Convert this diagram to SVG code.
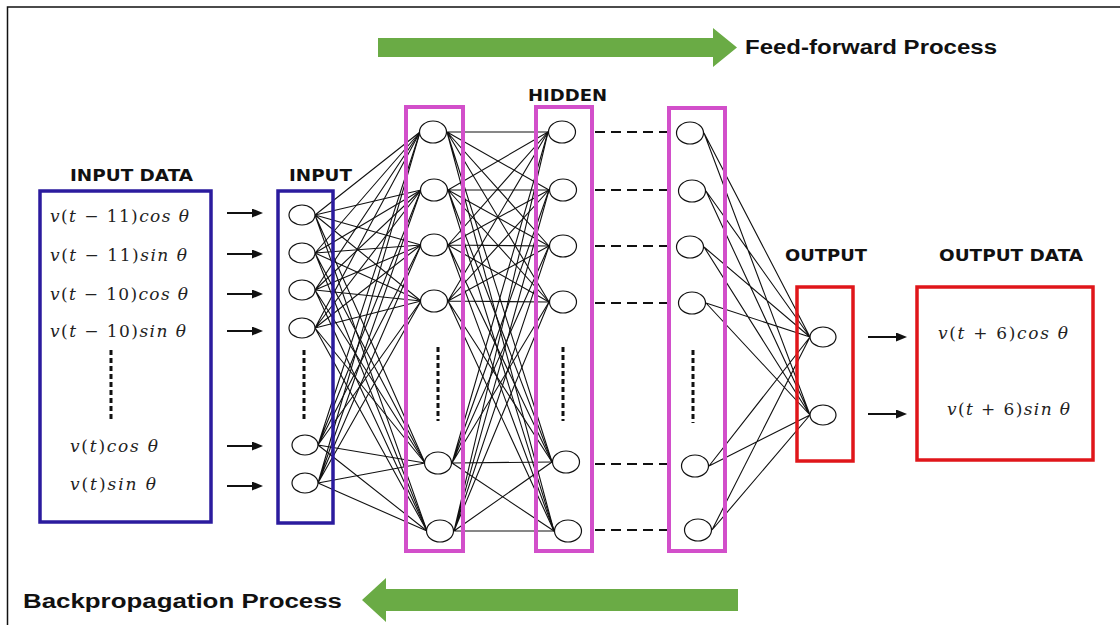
<svg xmlns="http://www.w3.org/2000/svg" width="1120" height="625" viewBox="0 0 1120 625">
<style>
.lbl{font-family:"DejaVu Sans","Liberation Sans",sans-serif;font-weight:bold;font-size:16px;fill:#111}
.proc{font-family:"Liberation Sans","Open Sans",sans-serif;font-weight:bold;font-size:20px;fill:#111}
.m{font-family:"DejaVu Serif","Liberation Serif",serif;font-size:17px;fill:#222}
.i{font-style:italic}
.blue{fill:none;stroke:#2b1b9e;stroke-width:3.5}
.mag{fill:none;stroke:#d24fca;stroke-width:4}
.red{fill:none;stroke:#e0161a;stroke-width:3.5}
.n{fill:#fff;stroke:#111;stroke-width:1.2}
.c{fill:none;stroke:#111;stroke-width:1.1}
.vd{stroke:#111;stroke-width:3;stroke-dasharray:5 3}
.hd{stroke:#111;stroke-width:2.2;stroke-dasharray:10 6}
.ar{stroke:#111;stroke-width:2}
.green{fill:#6aab45}
</style>
<defs>
<marker id="ah" markerUnits="userSpaceOnUse" markerWidth="11" markerHeight="9" refX="2" refY="4.5" orient="auto">
<path d="M0,0 L11,4.5 L0,9 Z" fill="#111"/>
</marker>
</defs>
<rect x="7.5" y="7" width="1200" height="700" fill="#fff" stroke="#111" stroke-width="1.5"/>

<g id="feed-forward">
<path class="green" d="M378,38 L713,38 L713,28 L737,47.5 L713,67 L713,57 L378,57 Z"/>
<text class="proc" x="745" y="54" textLength="252" lengthAdjust="spacingAndGlyphs">Feed-forward Process</text>
</g>
<g id="backpropagation">
<path class="green" d="M738,589 L386,589 L386,578 L362,600 L386,622 L386,611 L738,611 Z"/>
<text class="proc" x="23" y="608" textLength="319" lengthAdjust="spacingAndGlyphs">Backpropagation Process</text>
</g>

<g id="connectors">
<g id="in-h1">
<path class="c" d="M315 215L420 132M315 215L421 190M315 215L421 245M315 215L421 301M315 215L425 463M315 215L427 531"/>
<path class="c" d="M315 253L420 132M315 253L421 190M315 253L421 245M315 253L421 301M315 253L425 463M315 253L427 531"/>
<path class="c" d="M315 290L420 132M315 290L421 190M315 290L421 245M315 290L421 301M315 290L425 463M315 290L427 531"/>
<path class="c" d="M315 328L420 132M315 328L421 190M315 328L421 245M315 328L421 301M315 328L425 463M315 328L427 531"/>
<path class="c" d="M318 445L420 132M318 445L421 190M318 445L421 245M318 445L421 301M318 445L425 463M318 445L427 531"/>
<path class="c" d="M318 483L420 132M318 483L421 190M318 483L421 245M318 483L421 301M318 483L425 463M318 483L427 531"/>
</g>
<g id="h1-h2">
<path class="c" d="M447 132L548 132M447 132L549 190M447 132L549 246M447 132L549 302M447 132L552 462M447 132L554 531"/>
<path class="c" d="M448 190L548 132M448 190L549 190M448 190L549 246M448 190L549 302M448 190L552 462M448 190L554 531"/>
<path class="c" d="M448 245L548 132M448 245L549 190M448 245L549 246M448 245L549 302M448 245L552 462M448 245L554 531"/>
<path class="c" d="M448 301L548 132M448 301L549 190M448 301L549 246M448 301L549 302M448 301L552 462M448 301L554 531"/>
<path class="c" d="M452 463L548 132M452 463L549 190M452 463L549 246M452 463L549 302M452 463L552 462M452 463L554 531"/>
<path class="c" d="M454 531L548 132M454 531L549 190M454 531L549 246M454 531L549 302M454 531L552 462M454 531L554 531"/>
</g>
<g id="h2-h3">
<line class="hd" x1="595" y1="132" x2="667" y2="132"/>
<line class="hd" x1="595" y1="190" x2="667" y2="190"/>
<line class="hd" x1="595" y1="246" x2="667" y2="246"/>
<line class="hd" x1="595" y1="303" x2="667" y2="303"/>
<line class="hd" x1="595" y1="464" x2="667" y2="464"/>
<line class="hd" x1="595" y1="530" x2="667" y2="530"/>
</g>
<g id="h3-out">
<path class="c" d="M704 133L810 337M704 133L810 415M706 191L810 337M706 191L810 415M704 247L810 337M704 247L810 415M706 303L810 337M706 303L810 415M709 466L810 337M709 466L810 415M712 530L810 337M712 530L810 415"/>
</g>
<g id="data-arrows">
<line class="ar" x1="227" y1="213" x2="254" y2="213" marker-end="url(#ah)"/>
<line class="ar" x1="227" y1="254" x2="254" y2="254" marker-end="url(#ah)"/>
<line class="ar" x1="227" y1="294" x2="254" y2="294" marker-end="url(#ah)"/>
<line class="ar" x1="227" y1="331" x2="254" y2="331" marker-end="url(#ah)"/>
<line class="ar" x1="227" y1="446" x2="254" y2="446" marker-end="url(#ah)"/>
<line class="ar" x1="227" y1="486" x2="254" y2="486" marker-end="url(#ah)"/>
<line class="ar" x1="868" y1="337" x2="898" y2="337" marker-end="url(#ah)"/>
<line class="ar" x1="868" y1="414" x2="898" y2="414" marker-end="url(#ah)"/>
</g>
</g>

<g id="input-data">
<text class="lbl" x="70" y="181" textLength="123" lengthAdjust="spacingAndGlyphs">INPUT DATA</text>
<rect class="blue" x="40" y="191" width="171" height="331"/>
<text class="m" x="50" y="222" textLength="139" lengthAdjust="spacing"><tspan class="i">v</tspan>(<tspan class="i">t</tspan> − 11)<tspan class="i">cos θ</tspan></text>
<text class="m" x="50" y="261" textLength="137" lengthAdjust="spacing"><tspan class="i">v</tspan>(<tspan class="i">t</tspan> − 11)<tspan class="i">sin θ</tspan></text>
<text class="m" x="50" y="300" textLength="138" lengthAdjust="spacing"><tspan class="i">v</tspan>(<tspan class="i">t</tspan> − 10)<tspan class="i">cos θ</tspan></text>
<text class="m" x="50" y="337" textLength="136" lengthAdjust="spacing"><tspan class="i">v</tspan>(<tspan class="i">t</tspan> − 10)<tspan class="i">sin θ</tspan></text>
<line class="vd" x1="111" y1="350" x2="111" y2="421"/>
<text class="m" x="70" y="452" textLength="88" lengthAdjust="spacing"><tspan class="i">v</tspan>(<tspan class="i">t</tspan>)<tspan class="i">cos θ</tspan></text>
<text class="m" x="70" y="490" textLength="86" lengthAdjust="spacing"><tspan class="i">v</tspan>(<tspan class="i">t</tspan>)<tspan class="i">sin θ</tspan></text>
</g>

<g id="input-layer">
<text class="lbl" x="289" y="181" textLength="63" lengthAdjust="spacingAndGlyphs">INPUT</text>
<rect class="blue" x="278" y="191" width="55" height="332"/>
<ellipse class="n" cx="302" cy="215" rx="13" ry="10"/>
<ellipse class="n" cx="302" cy="253" rx="13" ry="10"/>
<ellipse class="n" cx="302" cy="290" rx="13" ry="10"/>
<ellipse class="n" cx="302" cy="328" rx="13" ry="10"/>
<line class="vd" x1="304" y1="350" x2="304" y2="421"/>
<ellipse class="n" cx="305" cy="445" rx="13" ry="10"/>
<ellipse class="n" cx="305" cy="483" rx="13" ry="10"/>
</g>

<text id="hidden-label" class="lbl" x="528" y="101" textLength="79" lengthAdjust="spacingAndGlyphs">HIDDEN</text>

<g id="hidden-1">
<rect class="mag" x="406" y="107" width="57" height="444"/>
<ellipse class="n" cx="433" cy="132" rx="13.5" ry="11"/>
<ellipse class="n" cx="434" cy="190" rx="13.5" ry="11"/>
<ellipse class="n" cx="434" cy="245" rx="13.5" ry="11"/>
<ellipse class="n" cx="434" cy="301" rx="13.5" ry="11"/>
<line class="vd" x1="438" y1="347" x2="438" y2="421"/>
<ellipse class="n" cx="438" cy="463" rx="13.5" ry="11"/>
<ellipse class="n" cx="440" cy="531" rx="13.5" ry="11"/>
</g>

<g id="hidden-2">
<rect class="mag" x="536" y="107" width="56" height="444"/>
<ellipse class="n" cx="562" cy="132" rx="13.5" ry="11"/>
<ellipse class="n" cx="563" cy="190" rx="13.5" ry="11"/>
<ellipse class="n" cx="563" cy="246" rx="13.5" ry="11"/>
<ellipse class="n" cx="563" cy="302" rx="13.5" ry="11"/>
<line class="vd" x1="563" y1="347" x2="563" y2="421"/>
<ellipse class="n" cx="566" cy="462" rx="13.5" ry="11"/>
<ellipse class="n" cx="568" cy="531" rx="13.5" ry="11"/>
</g>

<g id="hidden-3">
<rect class="mag" x="669" y="108" width="56" height="443"/>
<ellipse class="n" cx="690" cy="133" rx="13.5" ry="11"/>
<ellipse class="n" cx="692" cy="191" rx="13.5" ry="11"/>
<ellipse class="n" cx="690" cy="247" rx="13.5" ry="11"/>
<ellipse class="n" cx="692" cy="303" rx="13.5" ry="11"/>
<line class="vd" x1="693" y1="350" x2="693" y2="423"/>
<ellipse class="n" cx="695" cy="466" rx="13.5" ry="11"/>
<ellipse class="n" cx="698" cy="530" rx="13.5" ry="11"/>
</g>

<g id="output-layer">
<text class="lbl" x="785" y="261" textLength="82" lengthAdjust="spacingAndGlyphs">OUTPUT</text>
<rect class="red" x="797" y="287" width="56" height="174"/>
<ellipse class="n" cx="823" cy="337" rx="13" ry="10"/>
<ellipse class="n" cx="823" cy="415" rx="13" ry="10"/>
</g>

<g id="output-data">
<text class="lbl" x="939" y="261" textLength="144" lengthAdjust="spacingAndGlyphs">OUTPUT DATA</text>
<rect class="red" x="917" y="287" width="176" height="173"/>
<text class="m" x="938" y="339" textLength="130" lengthAdjust="spacing"><tspan class="i">v</tspan>(<tspan class="i">t</tspan> + 6)<tspan class="i">cos θ</tspan></text>
<text class="m" x="947" y="415" textLength="123" lengthAdjust="spacing"><tspan class="i">v</tspan>(<tspan class="i">t</tspan> + 6)<tspan class="i">sin θ</tspan></text>
</g>
</svg>
